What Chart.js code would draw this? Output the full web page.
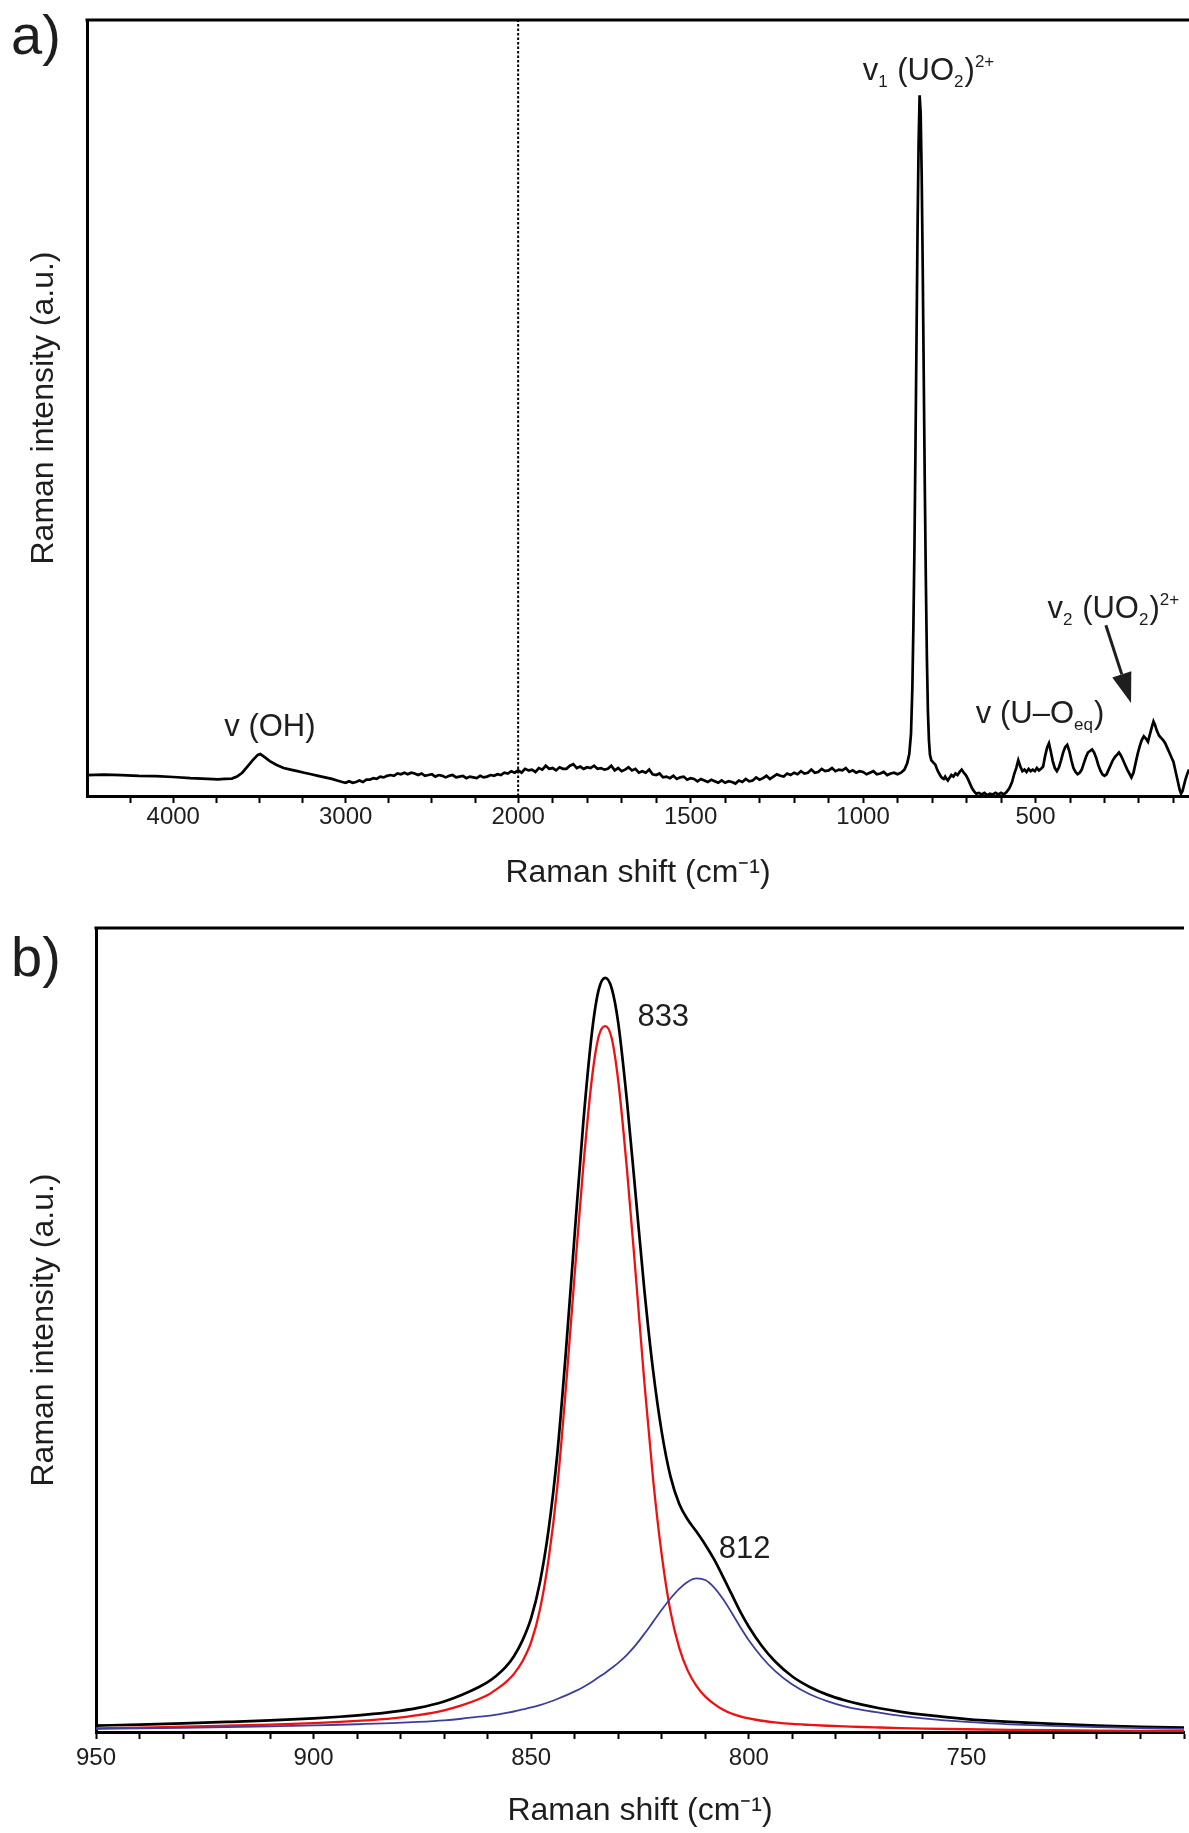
<!DOCTYPE html>
<html>
<head>
<meta charset="utf-8">
<script src="https://cdn.jsdelivr.net/npm/chart.js@4/dist/chart.umd.min.js"></script>
<style>
  html, body { margin: 0; padding: 0; background: #fff; }
  #wrap { position: relative; width: 1189px; height: 1833px; overflow: hidden; }
  canvas { position: absolute; left: 0; }
  .pl { position: absolute; font-family: "Liberation Sans", Arial, sans-serif; font-size: 56px; line-height: 56px; color: #1e1e1e; }
</style>
</head>
<body>
<div id="wrap">
  <canvas id="chartA" width="1189" height="900" style="top:0"></canvas>
  <canvas id="chartB" width="1189" height="933" style="top:900px"></canvas>
  <div class="pl" style="left:11px; top:7px;">a)</div>
  <div class="pl" style="left:11px; top:929px;">b)</div>
</div>
<script>
// ---------------- Panel a data: Raman shift (cm-1) and intensity (a.u.) ----------------
const shiftA = [
  4500,4400,4300,4200,4100,4000,3900,3800,3740,3700,3660,3630,3600,3570,3540,3510,3495,3470,3440,3400,
  3360,3320,3280,3240,3200,3160,3120,3080,3050,3020,3000,2980,2960,2940,2920,2900,2880,2860,2840,2820,
  2800,2780,2760,2740,2720,2700,2680,2660,2640,2620,2600,2580,2560,2540,2520,2500,2480,2460,2440,2420,
  2400,2380,2360,2340,2320,2300,2280,2260,2240,2220,2200,2180,2160,2140,2120,2100,2080,2060,2040,2020,
  2000,1990,1980,1970,1960,1950,1940,1930,1920,1910,1900,1890,1880,1870,1860,1850,1840,1830,1820,1810,
  1800,1790,1780,1770,1760,1750,1740,1730,1720,1710,1700,1690,1680,1670,1660,1650,1640,1630,1620,1610,
  1600,1590,1580,1570,1560,1550,1540,1530,1520,1510,1500,1490,1480,1470,1460,1450,1440,1430,1420,1410,
  1400,1390,1380,1370,1360,1350,1340,1330,1320,1310,1300,1290,1280,1270,1260,1250,1240,1230,1220,1210,
  1200,1190,1180,1170,1160,1150,1140,1130,1120,1110,1100,1090,1080,1070,1060,1050,1040,1030,1020,1010,
  1000,990,980,970,960,950,940,930,920,910,900,890,880,872,866,861,857,854,851,848,
  845,842,839,836,833,830,827,824,821,818,815,812,809,806,802,798,794,790,786,782,
  778,774,770,766,762,758,754,750,744,738,732,726,720,714,708,702,696,690,684,678,
  672,664,656,648,640,632,624,616,608,600,592,584,576,568,562,556,550,544,538,532,
  526,520,514,508,502,496,490,484,478,472,466,461,456,450,444,438,432,426,420,414,
  408,402,396,390,384,378,372,366,360,354,348,342,336,330,324,318,312,306,300,294,
  288,282,276,270,264,258,252,246,240,234,228,222,216,210,204,198,192,186,180,174,
  168,162,158,154,148,142,136,130,124,118,112,106,100,94,88,82,78,74,70,66,
  62,58,55
];
const intensityA = [
  2.7,2.75,2.7,2.6,2.55,2.45,2.3,2.2,2.15,2.2,2.25,2.5,3.0,3.8,4.6,5.3,5.4,5.0,4.5,4.0,
  3.6,3.4,3.2,3.0,2.8,2.6,2.4,2.2,2.0,1.8,1.7,1.9,1.7,1.8,2.0,1.8,2.1,2.1,2.3,2.2,
  2.5,2.4,2.6,2.7,2.6,2.9,2.8,3.0,2.8,3.0,2.9,2.7,2.9,2.6,2.7,2.8,2.5,2.7,2.6,2.4,
  2.6,2.7,2.4,2.5,2.6,2.3,2.5,2.4,2.3,2.6,2.4,2.5,2.7,2.6,2.8,2.7,3.0,2.9,3.2,3.0,
  3.3,3.0,3.5,3.3,3.4,3.1,3.6,3.4,3.9,3.5,3.6,3.3,3.7,3.5,3.5,3.9,4.1,3.6,3.8,3.5,
  3.7,3.6,3.9,3.5,3.6,3.4,3.5,3.9,3.3,3.6,3.2,3.4,3.7,3.3,3.5,3.0,3.2,3.0,3.4,2.8,
  2.7,2.9,2.4,2.5,2.3,2.6,2.2,2.4,2.5,2.1,2.3,2.2,1.9,2.2,2.0,1.8,2.1,1.9,1.7,2.0,
  1.7,1.9,1.8,1.6,2.0,1.8,2.2,1.9,2.0,2.4,2.1,2.3,2.6,2.2,2.5,2.8,2.6,2.5,2.9,2.7,
  3.0,2.8,3.2,2.9,3.0,3.4,3.0,3.1,3.5,3.2,3.3,3.6,3.2,3.4,3.3,3.6,3.1,3.3,3.0,3.2,
  3.1,2.8,3.0,3.2,2.8,2.9,3.1,2.7,2.9,3.0,2.8,3.0,3.4,4.2,5.4,8.0,14,22,32,45,
  59,73,84,90.3,88,80,68,54,40,28,18,11,7.2,5.3,4.6,4.4,4.2,4.0,3.5,3.1,
  2.8,2.5,2.3,2.2,2.5,2.2,2.0,2.3,2.7,2.5,2.9,2.7,3.1,3.4,3.0,2.7,2.2,1.6,1.0,0.6,
  0.3,0.4,0.2,0.4,0.1,0.3,0.2,0.4,0.2,0.4,0.2,0.5,1.0,1.8,2.8,3.6,4.6,3.8,3.2,3.4,
  3.1,3.5,3.2,3.4,3.2,3.6,3.3,3.5,3.8,5.2,6.3,6.8,5.8,4.5,3.6,3.2,3.7,4.6,5.6,6.3,
  6.6,5.8,4.6,3.6,3.1,2.8,3.0,3.4,4.2,5.0,5.6,5.8,6.0,5.6,4.9,4.0,3.3,2.8,2.6,2.8,
  3.4,4.0,4.6,5.0,5.3,5.6,5.2,4.6,4.0,3.4,2.9,2.4,3.0,4.2,5.4,6.4,7.2,7.7,7.4,7.0,
  8.0,9.0,9.6,9.2,8.4,7.8,7.5,7.2,6.8,6.2,5.6,5.0,4.4,3.2,2.0,0.8,0.3,0.6,1.3,2.0,
  2.6,3.1,3.4
];
// axis of panel a: broken scale, region above BREAK_AT is compressed
const BREAK_AT = 2000;
const LEFT_COMPRESSION = 2;
const rangeA = [55, 4500];
const majorTicksA = [4000, 3000, 2000, 1500, 1000, 500];
const tickValuesA = [4250,4000,3750,3500,3250,3000,2750,2500,2250,2000,
  1900,1800,1700,1600,1500,1400,1300,1200,1100,1000,900,800,700,600,500,400,300,200,100];

// ---------------- Panel b data ----------------
const shiftB = [950,940,930,920,910,900,894,888,882,876,870,866,862,860,858,856,854,852,850,848,
  846,844,842,840,838,836,834.5,833,831.5,830,828,826,824,822,820,818,816,814,812,810,
  808,806,804,802,800,797,794,790,786,782,778,774,770,765,760,750,740,730,720,710,700];
const measuredB = [0.8,0.92,1.07,1.25,1.45,1.7,1.9,2.15,2.5,3.0,3.8,4.6,5.6,6.2,7.0,8.0,9.4,11.4,14.2,18.6,
  25.2,34.6,47.5,62,76,87.2,92.3,93.8,92.5,88.2,78.5,66.8,55,45,37.3,31.8,28.4,26.4,24.9,23.3,
  21.5,19.4,17.2,15.0,13.1,10.7,8.8,6.9,5.6,4.65,3.95,3.4,2.95,2.5,2.15,1.6,1.25,1.0,0.8,0.65,0.55];
const band833 = [0.45,0.55,0.65,0.78,0.92,1.1,1.25,1.45,1.7,2.1,2.7,3.3,4.1,4.6,5.3,6.1,7.2,8.8,11.2,15.2,
  21.5,30.5,43,57,70.5,81.5,86.5,87.8,86.3,81,70,57,43.5,31.5,22,15,10.5,7.6,5.7,4.4,
  3.5,2.8,2.3,1.95,1.7,1.4,1.2,1.0,0.88,0.78,0.7,0.62,0.56,0.49,0.43,0.34,0.27,0.22,0.18,0.15,0.12];
const band812 = [0.4,0.45,0.52,0.6,0.7,0.82,0.9,1.0,1.1,1.25,1.45,1.65,1.9,2.0,2.15,2.35,2.55,2.8,3.05,3.35,
  3.7,4.1,4.55,5.05,5.6,6.25,6.8,7.35,7.95,8.6,9.6,10.8,12.2,13.7,15.2,16.6,17.8,18.7,19.1,18.9,
  18.0,16.6,14.9,13.1,11.4,9.3,7.6,5.9,4.7,3.85,3.2,2.75,2.4,2.0,1.7,1.25,0.95,0.75,0.6,0.48,0.4];
const rangeB = [700, 950];
const majorTicksB = [950, 900, 850, 800, 750];

// ---------------- annotations (anchored in data units) ----------------
const labelsA = [
  { x: 3704, y: 7.7,  parts: [['v (OH)', 'n']] },
  { x: 1001, y: 92.3, parts: [['v','n'],['1','sub'],[' (UO','n'],['2','sub'],[')','n'],['2+','sup']] },
  { x: 465,  y: 22.9, parts: [['v','n'],['2','sub'],[' (UO','n'],['2','sub'],[')','n'],['2+','sup']] },
  { x: 673,  y: 9.4,  parts: [['v (U\u2013O','n'],['eq','sub'],[')','n']] }
];
const arrowA = { from: [296, 22.0], to: [223, 12.0] };
const labelsB = [
  { x: 825.6, y: 87.8, parts: [['833','n']] },
  { x: 806.9, y: 21.7, parts: [['812','n']] }
];

// ---------------- helpers ----------------
const FONT = '"Liberation Sans", Arial, Helvetica, sans-serif';
const TEXT = '#1e1e1e';
const toU = x => x <= BREAK_AT ? x : BREAK_AT + (x - BREAK_AT) / LEFT_COMPRESSION;
const fromU = u => u <= BREAK_AT ? u : BREAK_AT + (u - BREAK_AT) * LEFT_COMPRESSION;

function drawRich(ctx, px, py, parts, size) {
  let x = px;
  for (const [t, kind] of parts) {
    const fs = kind === 'n' ? size : Math.round(size * 0.56);
    const dy = kind === 'sub' ? 7 : (kind === 'sup' ? -13 : 0);
    ctx.font = fs + 'px ' + FONT;
    ctx.fillText(t, x, py + dy);
    x += ctx.measureText(t).width + (kind === 'n' ? 0 : 1);
  }
}
function topBorder(chart) {
  const { ctx, chartArea } = chart;
  ctx.save();
  ctx.strokeStyle = '#000';
  ctx.lineWidth = 3;
  ctx.beginPath();
  ctx.moveTo(chartArea.left - 1.5, chartArea.top);
  ctx.lineTo(chartArea.right, chartArea.top);
  ctx.stroke();
  ctx.restore();
}

const annotA = {
  id: 'annotA',
  afterDraw(chart) {
    const { ctx, scales: { x, y } } = chart;
    ctx.save();
    ctx.fillStyle = TEXT;
    ctx.textAlign = 'left';
    ctx.textBaseline = 'alphabetic';
    labelsA.forEach(l => drawRich(ctx, x.getPixelForValue(toU(l.x)), y.getPixelForValue(l.y), l.parts, 31));
    // arrow
    const x0 = x.getPixelForValue(toU(arrowA.from[0])), y0 = y.getPixelForValue(arrowA.from[1]);
    const x1 = x.getPixelForValue(toU(arrowA.to[0])), y1 = y.getPixelForValue(arrowA.to[1]);
    const ang = Math.atan2(y1 - y0, x1 - x0);
    const hl = 30, hw = 10;
    const bx = x1 - hl * Math.cos(ang), by = y1 - hl * Math.sin(ang);
    ctx.strokeStyle = '#1e1e1e';
    ctx.lineWidth = 3;
    ctx.beginPath(); ctx.moveTo(x0, y0); ctx.lineTo(bx, by); ctx.stroke();
    ctx.beginPath();
    ctx.moveTo(x1, y1);
    ctx.lineTo(bx + hw * Math.sin(ang), by - hw * Math.cos(ang));
    ctx.lineTo(bx - hw * Math.sin(ang), by + hw * Math.cos(ang));
    ctx.closePath();
    ctx.fill();
    ctx.restore();
    topBorder(chart);
  }
};
const annotB = {
  id: 'annotB',
  afterDraw(chart) {
    const { ctx, scales: { x, y } } = chart;
    ctx.save();
    ctx.fillStyle = TEXT;
    ctx.textAlign = 'left';
    ctx.textBaseline = 'alphabetic';
    labelsB.forEach(l => drawRich(ctx, x.getPixelForValue(l.x), y.getPixelForValue(l.y), l.parts, 31));
    ctx.restore();
    topBorder(chart);
  }
};

function xGrid() {
  return { display: true, drawOnChartArea: false, drawTicks: true, tickLength: 7, tickWidth: 2, tickColor: '#000', color: '#000' };
}
function yAxis() {
  return {
    min: 0, max: 100,
    ticks: { display: false },
    grid: { display: false },
    border: { display: true, width: 3, color: '#000' },
    title: { display: true, text: 'Raman intensity (a.u.)', color: TEXT, font: { family: FONT, size: 32 }, padding: { top: 25, bottom: 0 } }
  };
}

// ---------------- Chart a ----------------
new Chart(document.getElementById('chartA'), {
  type: 'line',
  data: {
    datasets: [
      {
        data: shiftA.map((s, i) => ({ x: toU(s), y: intensityA[i] })),
        borderColor: '#000', borderWidth: 2.7, pointRadius: 0, tension: 0, fill: false
      },
      {
        data: [{ x: toU(BREAK_AT), y: 0 }, { x: toU(BREAK_AT), y: 100 }],
        borderColor: '#000', borderWidth: 2, borderDash: [2.5, 2], pointRadius: 0, fill: false
      }
    ]
  },
  options: {
    responsive: false, animation: false, devicePixelRatio: 1,
    layout: { padding: { top: 20, right: 0, left: 0, bottom: 0 } },
    plugins: { legend: { display: false }, tooltip: { enabled: false } },
    scales: {
      x: {
        type: 'linear', reverse: true,
        min: toU(rangeA[0]), max: toU(rangeA[1]),
        afterBuildTicks: (scale) => { scale.ticks = tickValuesA.map(v => ({ value: toU(v) })); },
        afterFit: (scale) => { scale.height = 104; },
        ticks: {
          autoSkip: false, maxRotation: 0, padding: 0, color: TEXT,
          font: { family: FONT, size: 24 },
          callback: (val) => { const o = Math.round(fromU(val)); return majorTicksA.includes(o) ? String(o) : ''; }
        },
        grid: xGrid(),
        border: { display: true, width: 3, color: '#000' },
        title: { display: true, text: 'Raman shift (cm\u207B\u00B9)', color: TEXT, font: { family: FONT, size: 32 }, padding: { top: 0, bottom: 8 } }
      },
      y: Object.assign(yAxis(), { afterFit: (scale) => { scale.width = 87; } })
    }
  },
  plugins: [annotA]
});

// ---------------- Chart b ----------------
new Chart(document.getElementById('chartB'), {
  type: 'line',
  data: {
    datasets: [
      { data: shiftB.map((s, i) => ({ x: s, y: band812[i] })), borderColor: '#3c3f99', borderWidth: 1.8, pointRadius: 0, cubicInterpolationMode: 'monotone', fill: false },
      { data: shiftB.map((s, i) => ({ x: s, y: band833[i] })), borderColor: '#ee1111', borderWidth: 2.3, pointRadius: 0, cubicInterpolationMode: 'monotone', fill: false },
      { data: shiftB.map((s, i) => ({ x: s, y: measuredB[i] })), borderColor: '#000', borderWidth: 2.7, pointRadius: 0, cubicInterpolationMode: 'monotone', fill: false }
    ]
  },
  options: {
    responsive: false, animation: false, devicePixelRatio: 1,
    layout: { padding: { top: 28, right: 0, left: 0, bottom: 0 } },
    plugins: { legend: { display: false }, tooltip: { enabled: false } },
    scales: {
      x: {
        type: 'linear', reverse: true,
        min: rangeB[0], max: rangeB[1],
        afterFit: (scale) => { scale.height = 101; },
        ticks: {
          stepSize: 10, autoSkip: false, maxRotation: 0, padding: 5, color: TEXT,
          font: { family: FONT, size: 24 },
          callback: (val) => majorTicksB.includes(Math.round(val)) ? String(Math.round(val)) : ''
        },
        grid: xGrid(),
        border: { display: true, width: 3, color: '#000' },
        title: { display: true, text: 'Raman shift (cm\u207B\u00B9)', color: TEXT, font: { family: FONT, size: 32 }, padding: { top: 0, bottom: 3 } }
      },
      y: Object.assign(yAxis(), { afterFit: (scale) => { scale.width = 96; } })
    }
  },
  plugins: [annotB]
});
</script>
</body>
</html>
